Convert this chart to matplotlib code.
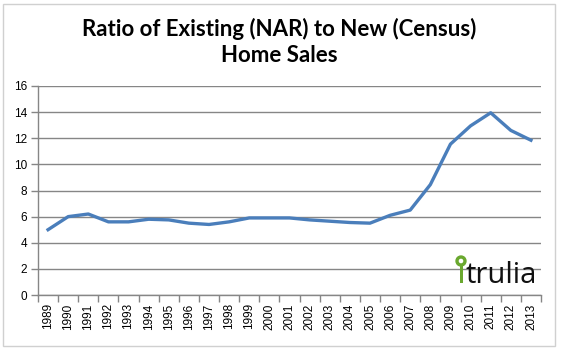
import matplotlib
matplotlib.use("Agg")
import matplotlib.pyplot as plt
from matplotlib.patches import Ellipse, Rectangle

# Data
years = [str(y) for y in range(1989, 2014)]
ratio = [5.0, 6.0, 6.2, 5.6, 5.6, 5.8, 5.75, 5.5, 5.4, 5.6, 5.9, 5.9, 5.9,
         5.75, 5.65, 5.55, 5.5, 6.1, 6.5, 8.45, 11.55, 12.95, 13.95, 12.6, 11.85]
yticks = [0, 2, 4, 6, 8, 10, 12, 14, 16]

W, H = 568, 354
fig = plt.figure(figsize=(W / 100, H / 100), dpi=100)
fig.patch.set_facecolor("white")

# chart frame (Excel chart border)
fig.patches.append(Rectangle((3 / W, 8 / H), 552 / W, 342 / H, transform=fig.transFigure,
                             fill=False, edgecolor="#d0d0d0", lw=1))

ax = fig.add_axes([38 / W, 1 - 295 / H, 503 / W, 209 / H])
x = list(range(len(years)))
ax.plot(x, ratio, color="#4a7ebb", lw=2.4, solid_joinstyle="round")

ax.set_xlim(-0.5, len(years) - 0.5)
ax.set_ylim(0, 16)
ax.set_yticks(yticks)
ax.set_yticklabels([str(v) for v in yticks], fontsize=8.5, family="Liberation Sans")
ax.set_xticks(x)
ax.set_xticklabels(years, rotation=90, fontsize=8.5, family="Liberation Sans")
ax.tick_params(axis="x", length=0, pad=6)
ax.set_xticks([i - 0.5 for i in range(len(years) + 1)], minor=True)
ax.tick_params(axis="x", which="minor", length=5, color="#868686", width=1)
ax.tick_params(axis="y", length=5, color="#868686", width=1, pad=3)

ax.grid(axis="y", color="#868686", lw=1)
ax.set_axisbelow(True)
for s in ["top", "right"]:
    ax.spines[s].set_visible(False)
for s in ["left", "bottom"]:
    ax.spines[s].set_color("#868686")
    ax.spines[s].set_linewidth(1)

fig.text(279 / W, 1 - 42 / H, "Ratio of Existing (NAR) to New (Census)\nHome Sales",
         ha="center", va="center", fontsize=16, fontweight="bold", family="Lato",
         linespacing=1.3)

# trulia logo
green = "#6aa82f"
fig.patches.append(Ellipse((461 / W, 1 - 261 / H), 8 / W, 8 / H, transform=fig.transFigure,
                           facecolor="none", edgecolor=green, lw=2.4))
fig.patches.append(Rectangle((459.5 / W, 1 - 283 / H), 3 / W, 17 / H,
                             transform=fig.transFigure, facecolor=green, edgecolor="none"))
fig.text(466 / W, 1 - 283 / H, "trulia", ha="left", va="baseline", fontsize=21,
         family="Open Sans", color="#111111")

fig.savefig("out.png", dpi=100, facecolor="white")
